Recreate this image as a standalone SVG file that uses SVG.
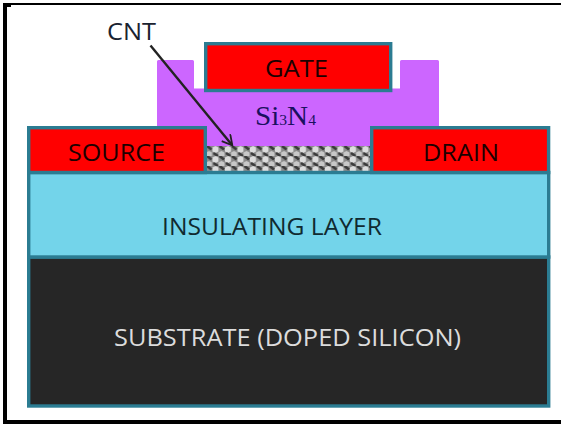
<svg xmlns="http://www.w3.org/2000/svg" width="561" height="427" viewBox="0 0 561 427">
<style>
.lay{stroke:#2b7c92;stroke-width:3.4}
.red{fill:#ff0000}
.t{font-family:"Open Sans","DejaVu Sans",sans-serif;font-size:24.5px;text-anchor:middle;fill:#1c0000}
</style>
<defs>
<pattern id="cnt" width="12.500" height="10" patternUnits="userSpaceOnUse" y="146">
<rect width="12.500" height="10" fill="#8a8a8a"/>
<path d="M0 1.500 3 0 6 1.500 6 5.500 3 7 0 5.500Z" fill="#dcdcdc"/>
<path d="M6 6.500 9 5 12 6.500 12 10 6 10Z" fill="#c8c8c8"/>
<path d="M7 0 11.500 3.500" stroke="#3a3a3a" stroke-width="2.600" fill="none"/>
<path d="M1 7 5.500 10" stroke="#3a3a3a" stroke-width="2.600" fill="none"/>
</pattern>
<marker id="arr" markerWidth="14" markerHeight="14" refX="10.500" refY="6" orient="auto" markerUnits="userSpaceOnUse"><path d="M1 0.500 11 6 1 11.500" fill="none" stroke="#222" stroke-width="1.800"/></marker>
</defs>
<rect width="561" height="427" fill="#fff"/>
<g id="frame" fill="#000">
<rect x="3" y="3" width="558" height="2"/>
<rect x="3" y="3" width="4" height="421"/>
<rect x="7" y="5" width="4" height="2"/>
<rect x="3" y="420" width="558" height="4"/>
</g>
<g id="si3n4"><path d="M157 127V61.500Q157 60 158.500 60H192.500Q194 60 194 61.500V88.500H400V61.500Q400 60 401.500 60H437.500Q439 60 439 61.500V127H372V147H205V127Z" fill="#cc66ff"/></g>
<g id="cnt-layer"><rect x="205" y="146" width="166" height="25" fill="url(#cnt)"/></g>
<g id="substrate"><rect x="28.700" y="257" width="520" height="149" class="lay" fill="#262626"/></g>
<g id="insulating"><rect x="28.700" y="172.500" width="520" height="84.500" class="lay" fill="#73d4ea"/></g>
<g id="source"><rect x="28.700" y="127.700" width="176.600" height="44.800" class="lay red"/></g>
<g id="drain"><rect x="371.700" y="127.700" width="176.900" height="44.800" class="lay red"/></g>
<g id="gate"><rect x="205.700" y="43.700" width="185" height="46.800" class="lay red"/></g>
<g id="connectors"><line x1="150.500" y1="45.500" x2="232" y2="145" stroke="#222" stroke-width="2.400" marker-end="url(#arr)"/></g>
<g id="labels">
<text class="t" x="131.500" y="39.500" textLength="49" lengthAdjust="spacingAndGlyphs" style="fill:#1a2230">CNT</text>
<text class="t" x="296.500" y="76.500" textLength="63" lengthAdjust="spacingAndGlyphs">GATE</text>
<text class="t" x="116.500" y="160.500" textLength="97" lengthAdjust="spacingAndGlyphs">SOURCE</text>
<text class="t" x="461" y="160.500" textLength="76" lengthAdjust="spacingAndGlyphs">DRAIN</text>
<text class="t" x="272" y="234.500" textLength="220" lengthAdjust="spacingAndGlyphs" style="fill:#102a30">INSULATING LAYER</text>
<text class="t" x="287.500" y="346" textLength="347" lengthAdjust="spacingAndGlyphs" style="fill:#dcdcdc">SUBSTRATE (DOPED SILICON)</text>
<text x="285.500" y="125" font-family="'Liberation Serif',serif" font-size="28" text-anchor="middle" fill="#1a1060" textLength="61" lengthAdjust="spacingAndGlyphs">Si<tspan font-size="15">3</tspan>N<tspan font-size="15">4</tspan></text>
</g>
</svg>
